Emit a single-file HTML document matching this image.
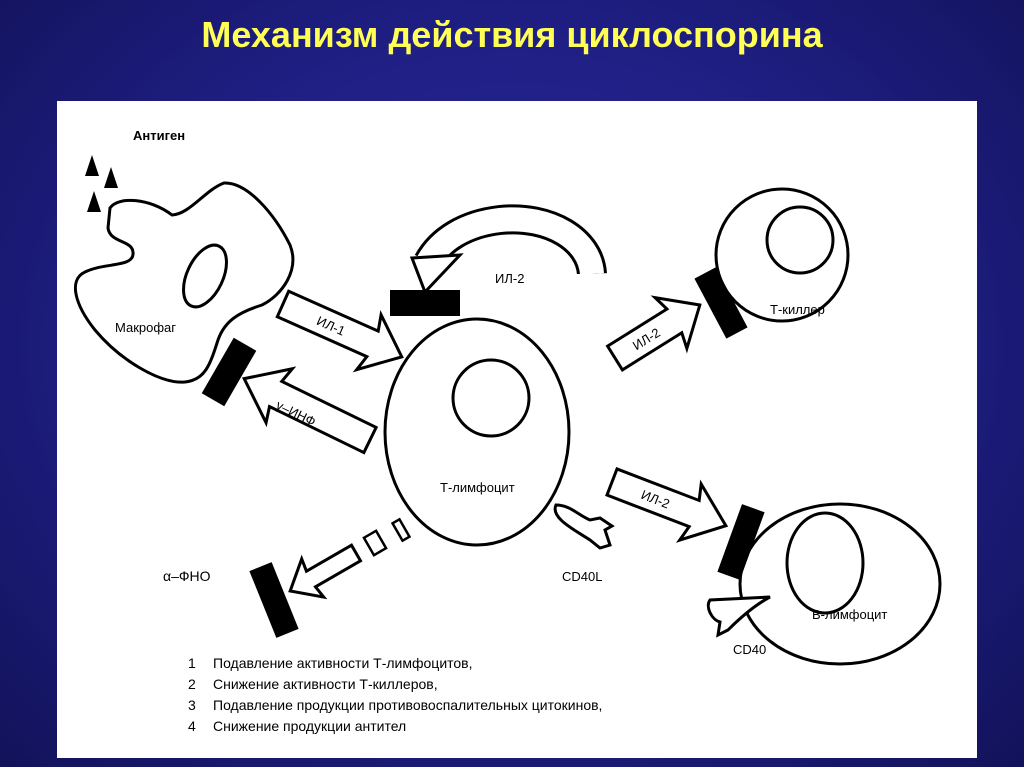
<!DOCTYPE html>
<html><head><meta charset="utf-8"><style>
html,body{margin:0;padding:0;width:1024px;height:767px;overflow:hidden;
background:radial-gradient(ellipse at 50% 45%,#2b2ba0 0%,#1e1e82 55%,#12125a 100%);}
.t{position:absolute;left:0;top:14px;width:1024px;text-align:center;font:bold 36px "Liberation Sans",sans-serif;color:#ffff55;}
svg{position:absolute;left:0;top:0}
text{font-family:"Liberation Sans","DejaVu Sans",sans-serif;fill:#000}
</style></head><body>
<div class="t">Механизм действия циклоспорина</div>
<svg width="1024" height="767" viewBox="0 0 1024 767">
<rect x="57" y="101" width="920" height="657" fill="#fff"/>
<!-- antigens -->
<polygon points="85,176 92,155 99,176" fill="#000"/>
<polygon points="104,188 111,167 118,188" fill="#000"/>
<polygon points="87,212 94,191 101,212" fill="#000"/>
<text x="133" y="140" font-size="13" font-weight="bold">Антиген</text>
<!-- macrophage -->
<path d="M110,208 C118,196 150,198 172,215 C190,214 205,190 224,183 C248,182 275,215 290,245 C300,270 282,295 262,305 C240,312 225,320 218,340 C210,365 205,380 185,382 C160,384 120,360 95,330 C75,305 68,280 85,272 C105,262 135,268 133,252 C132,240 110,243 108,228 Z" fill="#fff" stroke="#000" stroke-width="3"/>
<ellipse cx="205" cy="276" rx="18" ry="33" transform="rotate(25 205 276)" fill="#fff" stroke="#000" stroke-width="3"/>
<text x="115" y="332" font-size="13">Макрофаг</text>
<!-- T cell -->
<ellipse cx="477" cy="432" rx="92" ry="113" fill="#fff" stroke="#000" stroke-width="3"/>
<circle cx="491" cy="398" r="38" fill="#fff" stroke="#000" stroke-width="3"/>
<text x="440" y="492" font-size="13">Т-лимфоцит</text>
<!-- T killer -->
<circle cx="782" cy="255" r="66" fill="#fff" stroke="#000" stroke-width="3"/>
<circle cx="800" cy="240" r="33" fill="#fff" stroke="#000" stroke-width="3"/>
<text x="770" y="314" font-size="13">Т-киллер</text>
<!-- B cell -->
<ellipse cx="840" cy="584" rx="100" ry="80" fill="#fff" stroke="#000" stroke-width="3"/>
<ellipse cx="825" cy="563" rx="38" ry="50" fill="#fff" stroke="#000" stroke-width="3"/>
<text x="812" y="619" font-size="13">В-лимфоцит</text>
<!-- IL-1 arrow -->
<g transform="translate(283,304) rotate(24)">
<polygon points="0,-14 98,-14 94,-30 130,0 94,30 98,14 0,14" fill="#fff" stroke="#000" stroke-width="3"/>
<text x="38" y="5" font-size="13">ИЛ-1</text></g>
<!-- gamma INF -->
<g transform="translate(370,440) rotate(206)">
<polygon points="0,-14 105,-14 101,-30 140,0 101,30 105,14 0,14" fill="#fff" stroke="#000" stroke-width="3"/></g>
<text x="0" y="0" font-size="13" transform="translate(275,408) rotate(26)">γ–ИНФ</text>
<rect x="-13" y="-32" width="26" height="64" fill="#000" transform="translate(229,372) rotate(30)"/>
<!-- IL-2 curved -->
<path d="M592,274 C590,240 550,215 500,220 C465,224 440,240 428,262" fill="none" stroke="#000" stroke-width="30"/>
<path d="M592,274 C590,240 550,215 500,220 C465,224 440,240 428,262" fill="none" stroke="#fff" stroke-width="24"/>
<rect x="575" y="274" width="30" height="10" fill="#fff"/>
<polygon points="412,258 460,255 425,292" fill="#fff" stroke="#000" stroke-width="3"/>
<rect x="390" y="290" width="70" height="26" fill="#000"/>
<text x="495" y="283" font-size="13">ИЛ-2</text>
<!-- IL-2 to T killer -->
<g transform="translate(615,358) rotate(-32)">
<polygon points="0,-14 70,-14 66,-30 100,0 66,30 70,14 0,14" fill="#fff" stroke="#000" stroke-width="3"/>
<text x="22" y="5" font-size="13">ИЛ-2</text></g>
<rect x="-12" y="-34" width="24" height="68" fill="#000" transform="translate(721,303) rotate(-28)"/>
<!-- IL-2 to B -->
<g transform="translate(612,482) rotate(21)">
<polygon points="0,-14 88,-14 84,-30 122,0 84,30 88,14 0,14" fill="#fff" stroke="#000" stroke-width="3"/>
<text x="32" y="5" font-size="13">ИЛ-2</text></g>
<rect x="-12" y="-36" width="24" height="72" fill="#000" transform="translate(741,542) rotate(20)"/>
<!-- alpha FNO -->
<g transform="translate(356,553) rotate(150)"><polygon points="0,-9 52,-9 50,-22 76,0 50,22 52,9 0,9" fill="#fff" stroke="#000" stroke-width="3"/></g>
<rect x="-7" y="-10" width="14" height="20" fill="#fff" stroke="#000" stroke-width="2.5" transform="translate(375,543) rotate(-30)"/>
<rect x="-4" y="-10" width="8" height="20" fill="#fff" stroke="#000" stroke-width="2.5" transform="translate(401,530) rotate(-30)"/>
<rect x="-12" y="-36" width="24" height="72" fill="#000" transform="translate(274,600) rotate(-22)"/>
<text x="163" y="581" font-size="14">α–ФНО</text>
<!-- CD40L -->
<path d="M556,505 C550,518 575,530 590,540 L600,548 L610,545 L605,530 L612,526 L600,518 L590,520 C578,515 570,505 556,505 Z" fill="#fff" stroke="#000" stroke-width="3"/>
<text x="562" y="581" font-size="13">CD40L</text>
<!-- CD40 -->
<path d="M770,597 L710,600 C705,607 712,620 720,622 L718,635 L728,630 C740,618 755,605 770,597 Z" fill="#fff" stroke="#000" stroke-width="3"/>
<text x="733" y="654" font-size="13">CD40</text>
<!-- list -->
<g font-size="14">
<text x="188" y="668">1</text><text x="213" y="668">Подавление активности Т-лимфоцитов,</text>
<text x="188" y="689">2</text><text x="213" y="689">Снижение активности Т-киллеров,</text>
<text x="188" y="710">3</text><text x="213" y="710">Подавление продукции противовоспалительных цитокинов,</text>
<text x="188" y="731">4</text><text x="213" y="731">Снижение продукции антител</text>
</g>
</svg>
</body></html>
